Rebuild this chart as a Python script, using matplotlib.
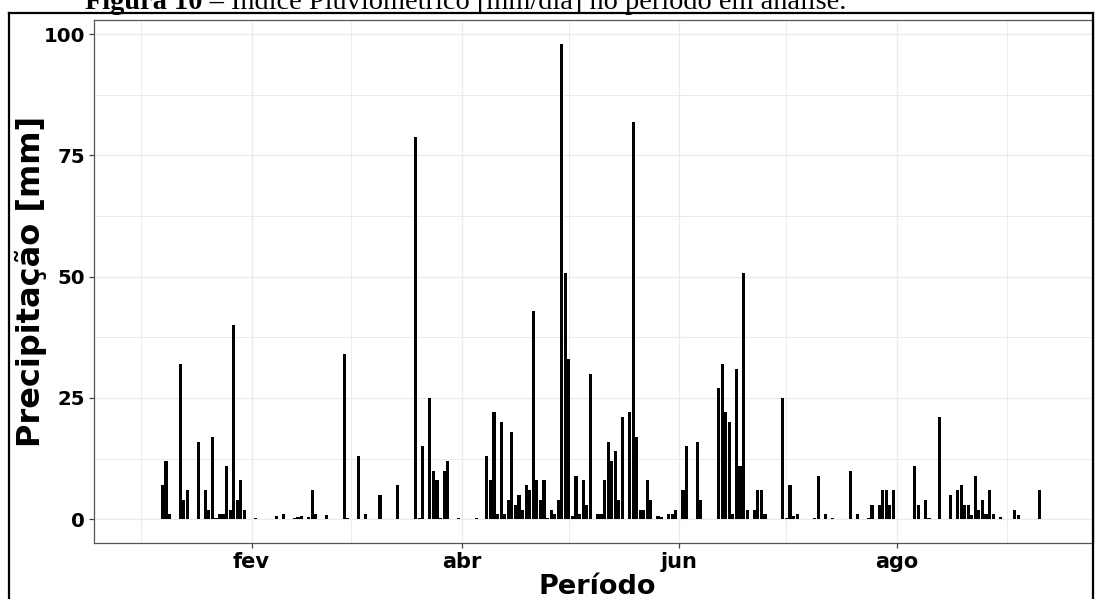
import matplotlib
matplotlib.use("Agg")
import matplotlib.pyplot as plt
import matplotlib.dates as mdates
from matplotlib.lines import Line2D
import pandas as pd

# ---------------- data ----------------
datas = [
    "2021-01-07", "2021-01-08", "2021-01-09", "2021-01-12", "2021-01-13", "2021-01-14",
    "2021-01-17", "2021-01-19", "2021-01-20", "2021-01-21", "2021-01-22", "2021-01-23",
    "2021-01-24", "2021-01-25", "2021-01-26", "2021-01-27", "2021-01-28", "2021-01-29",
    "2021-01-30", "2021-02-02", "2021-02-08", "2021-02-10", "2021-02-13", "2021-02-14",
    "2021-02-15", "2021-02-17", "2021-02-18", "2021-02-19", "2021-02-22", "2021-02-27",
    "2021-02-28", "2021-03-03", "2021-03-05", "2021-03-09", "2021-03-14", "2021-03-19",
    "2021-03-20", "2021-03-21", "2021-03-23", "2021-03-24", "2021-03-25", "2021-03-26",
    "2021-03-27", "2021-03-28", "2021-03-31", "2021-04-05", "2021-04-08", "2021-04-09",
    "2021-04-10", "2021-04-11", "2021-04-12", "2021-04-13", "2021-04-14", "2021-04-15",
    "2021-04-16", "2021-04-17", "2021-04-18", "2021-04-19", "2021-04-20", "2021-04-21",
    "2021-04-22", "2021-04-23", "2021-04-24", "2021-04-25", "2021-04-26", "2021-04-27",
    "2021-04-28", "2021-04-29", "2021-04-30", "2021-05-01", "2021-05-02", "2021-05-03",
    "2021-05-04", "2021-05-05", "2021-05-06", "2021-05-07", "2021-05-09", "2021-05-10",
    "2021-05-11", "2021-05-12", "2021-05-13", "2021-05-14", "2021-05-15", "2021-05-16",
    "2021-05-18", "2021-05-19", "2021-05-20", "2021-05-21", "2021-05-22", "2021-05-23",
    "2021-05-24", "2021-05-26", "2021-05-27", "2021-05-29", "2021-05-30", "2021-05-31",
    "2021-06-02", "2021-06-03", "2021-06-04", "2021-06-06", "2021-06-07", "2021-06-12",
    "2021-06-13", "2021-06-14", "2021-06-15", "2021-06-16", "2021-06-17", "2021-06-18",
    "2021-06-19", "2021-06-20", "2021-06-22", "2021-06-23", "2021-06-24", "2021-06-25",
    "2021-06-30", "2021-07-01", "2021-07-02", "2021-07-03", "2021-07-04", "2021-07-09",
    "2021-07-10", "2021-07-12", "2021-07-14", "2021-07-19", "2021-07-21", "2021-07-24",
    "2021-07-25", "2021-07-27", "2021-07-28", "2021-07-29", "2021-07-30", "2021-07-31",
    "2021-08-06", "2021-08-07", "2021-08-09", "2021-08-10", "2021-08-13", "2021-08-16",
    "2021-08-18", "2021-08-19", "2021-08-20", "2021-08-21", "2021-08-22", "2021-08-23",
    "2021-08-24", "2021-08-25", "2021-08-26", "2021-08-27", "2021-08-28", "2021-08-30",
    "2021-09-03", "2021-09-04", "2021-09-07", "2021-09-10",
]
precip = [
    7, 12, 1, 32, 4, 6,
    16, 6, 2, 17, 0.2, 1,
    1, 11, 2, 40, 4, 8,
    2, 0.2, 0.6, 1, 0.2, 0.5,
    0.7, 0.5, 6, 1, 0.8, 34,
    0.2, 13, 1, 5, 7, 78.7,
    0.2, 15, 25, 10, 8, 0.3,
    10, 12, 0.2, 0.2, 13, 8,
    22, 1, 20, 1, 4, 18,
    3, 5, 2, 7, 6, 43,
    8, 4, 8, 0.2, 2, 1,
    4, 98, 50.8, 33, 0.6, 9,
    1, 8, 3, 30, 1, 1,
    8, 16, 12, 14, 4, 21,
    22, 81.8, 17, 2, 2, 8,
    4, 0.6, 0.4, 1, 1, 2,
    6, 15, 0.1, 16, 4, 27,
    32, 22, 20, 1, 31, 11,
    50.8, 2, 2, 6, 6, 1,
    25, 0.2, 7, 0.7, 1, 0.2,
    9, 1, 0.3, 10, 1, 0.3,
    3, 3, 6, 6, 3, 6,
    11, 3, 4, 0.2, 21, 5,
    6, 7, 3, 3, 0.8, 9,
    2, 4, 1, 6, 1, 0.4,
    2, 0.8, 0.1, 6,
]

meses_maiores = ["2021-02-01", "2021-04-01", "2021-06-01", "2021-08-01"]
rotulos_x = ["fev", "abr", "jun", "ago"]
meses_menores = ["2021-01-01", "2021-03-01", "2021-05-01", "2021-07-01", "2021-09-01"]
y_ticks = [0, 25, 50, 75, 100]
y_minor = [12.5, 37.5, 62.5, 87.5]

titulo_neg = "Figura 10 \u2013"
titulo_reg = "\u00cdndice Pluviom\u00e9trico [mm/dia] no per\u00edodo em an\u00e1lise."

# ---------------- figure ----------------
W, H = 1095, 599
fig = plt.figure(figsize=(W / 100, H / 100), dpi=100)


def fx(px):
    return px / W


def fy(py):
    return 1 - py / H


ax_l, ax_r, ax_t, ax_b = 94, 1093, 20, 543
ax = fig.add_axes([fx(ax_l), fy(ax_b), (ax_r - ax_l) / W, (ax_b - ax_t) / H])

xnum = mdates.date2num(pd.to_datetime(datas))
ax.bar(xnum, precip, width=0.88, color="black", linewidth=0, zorder=3)

jan1 = mdates.date2num(pd.Timestamp("2021-01-01"))
ax.set_xlim(jan1 - 13.2, jan1 + 267.0)
ax.set_ylim(-4.9, 102.9)

grid_c = "#EBEBEB"
ax.set_xticks(mdates.date2num(pd.to_datetime(meses_maiores)))
ax.set_xticklabels(rotulos_x)
ax.set_xticks(mdates.date2num(pd.to_datetime(meses_menores)), minor=True)
ax.set_yticks(y_ticks)
ax.set_yticklabels([str(v) for v in y_ticks])
ax.set_yticks(y_minor, minor=True)
ax.grid(which="major", color=grid_c, linewidth=1.0, zorder=0)
ax.grid(which="minor", color=grid_c, linewidth=0.7, zorder=0)
ax.set_axisbelow(True)

fam = "DejaVu Sans"
ax.tick_params(which="minor", length=0)
ax.tick_params(which="major", length=3.6, width=0.9, color="#444444")
ax.tick_params(axis="x", which="major", pad=3.2)
ax.tick_params(axis="y", which="major", pad=3.0)
for lab in ax.get_xticklabels() + ax.get_yticklabels():
    lab.set_fontfamily(fam)
    lab.set_fontweight("bold")
    lab.set_color("black")
for lab in ax.get_xticklabels():
    lab.set_fontsize(15)
for lab in ax.get_yticklabels():
    lab.set_fontsize(14.2)

for s in ax.spines.values():
    s.set_color("#555555")
    s.set_linewidth(0.9)

ax.set_xlabel("Per\u00edodo", fontfamily=fam, fontweight="bold", fontsize=19.5)
ax.xaxis.label.set_va("baseline")
ax.xaxis.set_label_coords(0.504, -(594 - ax_b) / (ax_b - ax_t))
ax.set_ylabel("Precipita\u00e7\u00e3o [mm]", fontfamily=fam, fontweight="bold",
              fontsize=23)
ax.yaxis.label.set_va("center")
ax.yaxis.set_label_coords(-(94 - 31) / (ax_r - ax_l), 0.5)

# outer frame (document border)
for xs, ys in [([8.5, 8.5], [13, 600]), ([8.5, 1093], [13, 13]), ([1093, 1093], [13, 600])]:
    fig.add_artist(Line2D([fx(v) for v in xs], [fy(v) for v in ys], color="black",
                          linewidth=1.6, transform=fig.transFigure))

# caption (cut at the top, as in the reference)
t1 = fig.text(fx(85), fy(9), titulo_neg, fontfamily="Liberation Serif", fontweight="bold",
              fontsize=20.4, va="baseline", ha="left")
fig.canvas.draw()
bb = t1.get_window_extent(renderer=fig.canvas.get_renderer())
fig.text(bb.x1 / W + fx(7), fy(9), titulo_reg, fontfamily="Liberation Serif",
         fontsize=20.4, va="baseline", ha="left")

fig.savefig("out.png", dpi=100)
